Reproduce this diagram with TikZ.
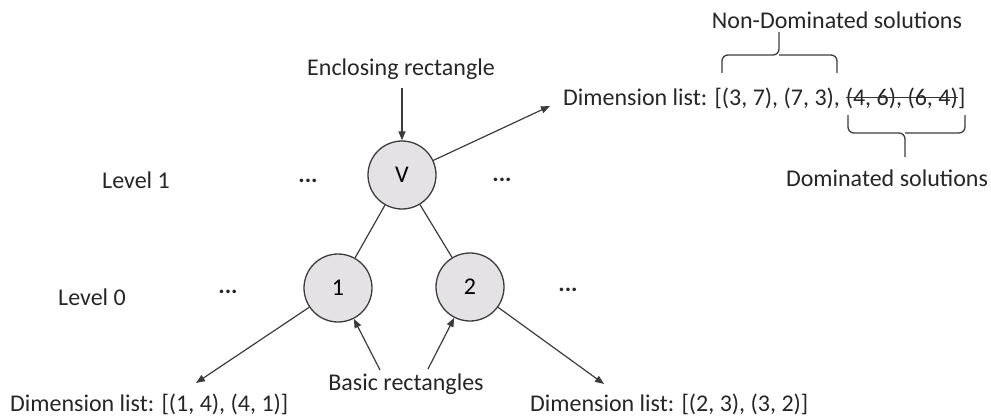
\documentclass[tikz,border=0pt]{standalone}
\usepackage{fontspec}
\setmainfont{Carlito}
\usetikzlibrary{arrows.meta}
\definecolor{cfill}{RGB}{228,226,228}
\definecolor{cline}{RGB}{60,60,60}
\begin{document}
\begin{tikzpicture}[x=1pt,y=-1pt,
  txt/.style={font=\fontsize{24}{28}\selectfont, inner sep=0pt, text=black!85},
  dots/.style={txt, font=\fontsize{24}{28}\selectfont\bfseries},
  vert/.style={circle, draw=cline, fill=cfill, line width=1.3pt, minimum size=68pt, inner sep=0pt, font=\fontsize{24}{28}\selectfont},
  conn/.style={draw=cline, line width=1.2pt},
  arr/.style={conn, -{Triangle[length=9pt,width=7pt]}},
  brc/.style={draw=cline, line width=1.3pt, rounded corners=6pt}]
\useasboundingbox (0,0) rectangle (991,420);
% nodes
\node[vert] (V) at (402,175) {V};
\node[vert] (n1) at (338,288) {1};
\node[vert] (n2) at (470,287) {2};
% labels
\node[txt] (enc) at (401,69) {Enclosing rectangle};
\node[txt] (lv1) at (136,180) {Level 1};
\node[txt] (lv0) at (92,297) {Level 0};
\node[dots] (d1) at (308,181) {...};
\node[dots] (d2) at (502,180) {...};
\node[dots] (d3) at (228,292) {...};
\node[dots] (d4) at (568,290) {...};
\node[txt, anchor=base west] (topA) at (563,105) {Dimension list: [(3, 7), (7, 3),};
\node[txt, anchor=base west] (topS) at ([xshift=5.4pt]topA.base east) {(4, 6), (6, 4)};
\node[txt, anchor=base west] (topE) at (topS.base east) {]};
\draw[line width=1pt, black!80] ([yshift=7.5pt]topS.base west) -- ([yshift=7.5pt]topS.base east);
\node[txt] (nd) at (837,20) {Non-Dominated solutions};
\node[txt] (dom) at (887,178) {Dominated solutions};
\node[txt, anchor=west] (bl) at (10,404) {Dimension list: [(1, 4), (4, 1)]};
\node[txt, anchor=west] (br) at (530,404) {Dimension list: [(2, 3), (3, 2)]};
\node[txt] (basic) at (406,384) {Basic rectangles};
% coordinates
\coordinate (a1) at (550,106);
\coordinate (a2) at (196,383);
\coordinate (a3) at (604,384);
\coordinate (b1s) at (380,370);
\coordinate (b2s) at (428,369);
\coordinate (encs) at (402,88);
% connectors
\draw[conn] (V) -- (n1);
\draw[conn] (V) -- (n2);
\draw[arr] (encs) -- (V);
\draw[arr] (V) -- (a1);
\draw[arr] (n1) -- (a2);
\draw[arr] (n2) -- (a3);
\draw[arr] (b1s) -- (n1);
\draw[arr] (b2s) -- (n2);
% braces
\draw[brc] (722,73) |- (779,55) -- (779,32);
\draw[brc] (837,73) |- (779,55);
\draw[brc] (848,115) |- (905,133) -- (905,157);
\draw[brc] (965,115) |- (905,133);
\end{tikzpicture}
\end{document}
